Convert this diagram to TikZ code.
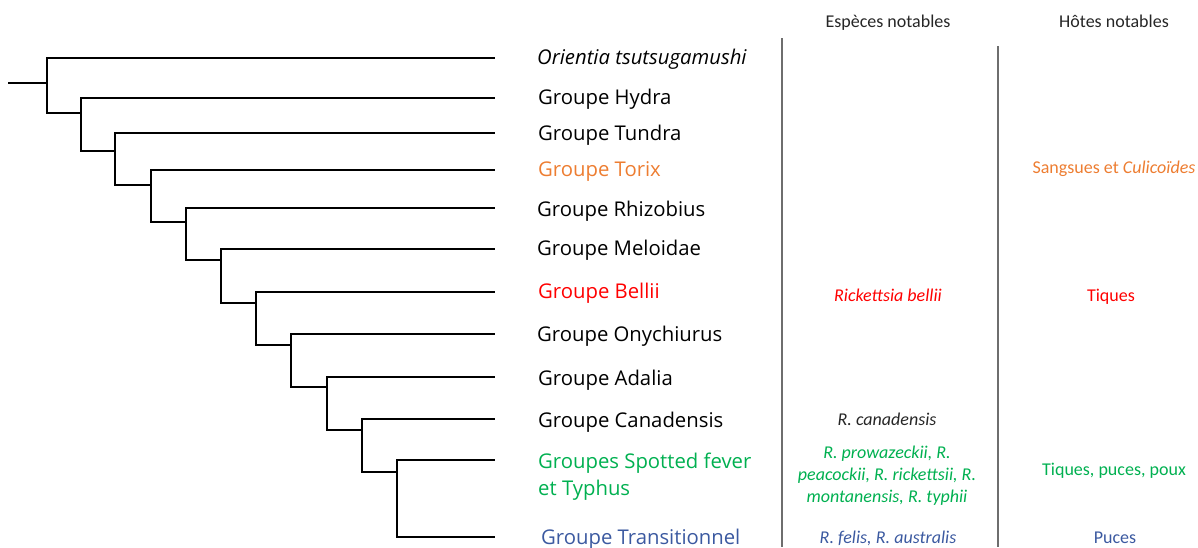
\documentclass[tikz,border=0pt]{standalone}
\usepackage{fontspec}
\setmainfont{Open Sans}
\newfontfamily\colfont{Carlito}

\definecolor{torix}{RGB}{237,125,49}
\definecolor{bellii}{RGB}{255,0,0}
\definecolor{spotted}{RGB}{0,176,80}
\definecolor{transit}{RGB}{59,89,160}
\definecolor{rule}{RGB}{110,110,110}

\tikzstyle{branch} = [line width=1.6pt, line cap=rect]
\tikzstyle{taxon} = [anchor=base west, inner sep=0pt, font=\fontsize{20.3}{27}\selectfont]
\tikzstyle{cell} = [anchor=base, inner sep=0pt, align=center, font=\colfont\fontsize{18}{22}\selectfont]
\tikzstyle{colline} = [line width=1.3pt, draw=rule]

\begin{document}
\begin{tikzpicture}[x=1pt,y=-1pt]
      \useasboundingbox (0,0) rectangle (1198,547);

      % tips of the tree
      \coordinate (tOr) at (494,58);
      \coordinate (tHy) at (494,98);
      \coordinate (tTu) at (494,133);
      \coordinate (tTo) at (494,170);
      \coordinate (tRh) at (494,208);
      \coordinate (tMe) at (494,249);
      \coordinate (tBe) at (494,292);
      \coordinate (tOn) at (494,334);
      \coordinate (tAd) at (494,377);
      \coordinate (tCa) at (494,419);
      \coordinate (tSF) at (494,460);
      \coordinate (tTr) at (494,537);

      % lower ends of the forks
      \coordinate (root) at (9,83);
      \coordinate (b1) at (47,113);
      \coordinate (b2) at (81,151);
      \coordinate (b3) at (115,185);
      \coordinate (b4) at (151,222);
      \coordinate (b5) at (186,260);
      \coordinate (b6) at (221,303);
      \coordinate (b7) at (256,345);
      \coordinate (b8) at (291,387);
      \coordinate (b9) at (327,430);
      \coordinate (b10) at (362,472);
      \coordinate (b11) at (397,537);

      \draw[branch] (root) -- (root -| b1);
      \draw[branch] (tOr) -| (b1) -- (b1 -| b2);
      \draw[branch] (tHy) -| (b2) -- (b2 -| b3);
      \draw[branch] (tTu) -| (b3) -- (b3 -| b4);
      \draw[branch] (tTo) -| (b4) -- (b4 -| b5);
      \draw[branch] (tRh) -| (b5) -- (b5 -| b6);
      \draw[branch] (tMe) -| (b6) -- (b6 -| b7);
      \draw[branch] (tBe) -| (b7) -- (b7 -| b8);
      \draw[branch] (tOn) -| (b8) -- (b8 -| b9);
      \draw[branch] (tAd) -| (b9) -- (b9 -| b10);
      \draw[branch] (tCa) -| (b10) -- (b10 -| b11);
      \draw[branch] (tSF) -| (b11) -- (tTr);

      % names of the groups
      \node[taxon] (lOr) at (537,64) {\itshape Orientia tsutsugamushi};
      \node[taxon] (lHy) at (538,104) {Groupe Hydra};
      \node[taxon] (lTu) at (538,140) {Groupe Tundra};
      \node[taxon, text=torix] (lTo) at (538,176) {Groupe Torix};
      \node[taxon] (lRh) at (537,216) {Groupe Rhizobius};
      \node[taxon] (lMe) at (537,255) {Groupe Meloidae};
      \node[taxon, text=bellii] (lBe) at (538,298) {Groupe Bellii};
      \node[taxon] (lOn) at (537,341) {Groupe Onychiurus};
      \node[taxon] (lAd) at (538,385) {Groupe Adalia};
      \node[taxon] (lCa) at (538,427) {Groupe Canadensis};
      \node[taxon, text=spotted, align=left] (lSF) at (538,495) {Groupes Spotted fever\\et Typhus};
      \node[taxon, text=transit] (lTr) at (541,544) {Groupe Transitionnel};

      % table on the right
      \coordinate (c1t) at (782,38);
      \coordinate (c1b) at (782,547);
      \coordinate (c2t) at (998,46);
      \coordinate (c2b) at (998,547);
      \draw[colline] (c1t) -- (c1b);
      \draw[colline] (c2t) -- (c2b);

      \node[cell, text=black!85] (hEsp) at (888,27) {Espèces notables};
      \node[cell, text=black!85] (hHot) at (1114,27) {Hôtes notables};

      \node[cell, text=torix] (hTo) at (1114,173) {Sangsues et \textit{Culicoïdes}};
      \node[cell, text=bellii] (sBe) at (888,301) {\itshape Rickettsia bellii};
      \node[cell, text=bellii] (hBe) at (1111,301) {Tiques};
      \node[cell, text=black!85] (sCa) at (887,425) {\itshape R. canadensis};
      \node[cell, text=spotted, font=\colfont\itshape\fontsize{18}{22}\selectfont] (sSF) at (887,502)
            {R. prowazeckii, R.\\peacockii, R. rickettsii, R.\\montanensis, R. typhii};
      \node[cell, text=spotted] (hSF) at (1114,475) {Tiques, puces, poux};
      \node[cell, text=transit] (sTr) at (888,543) {\itshape R. felis, R. australis};
      \node[cell, text=transit] (hTr) at (1115,543) {Puces};
\end{tikzpicture}
\end{document}
